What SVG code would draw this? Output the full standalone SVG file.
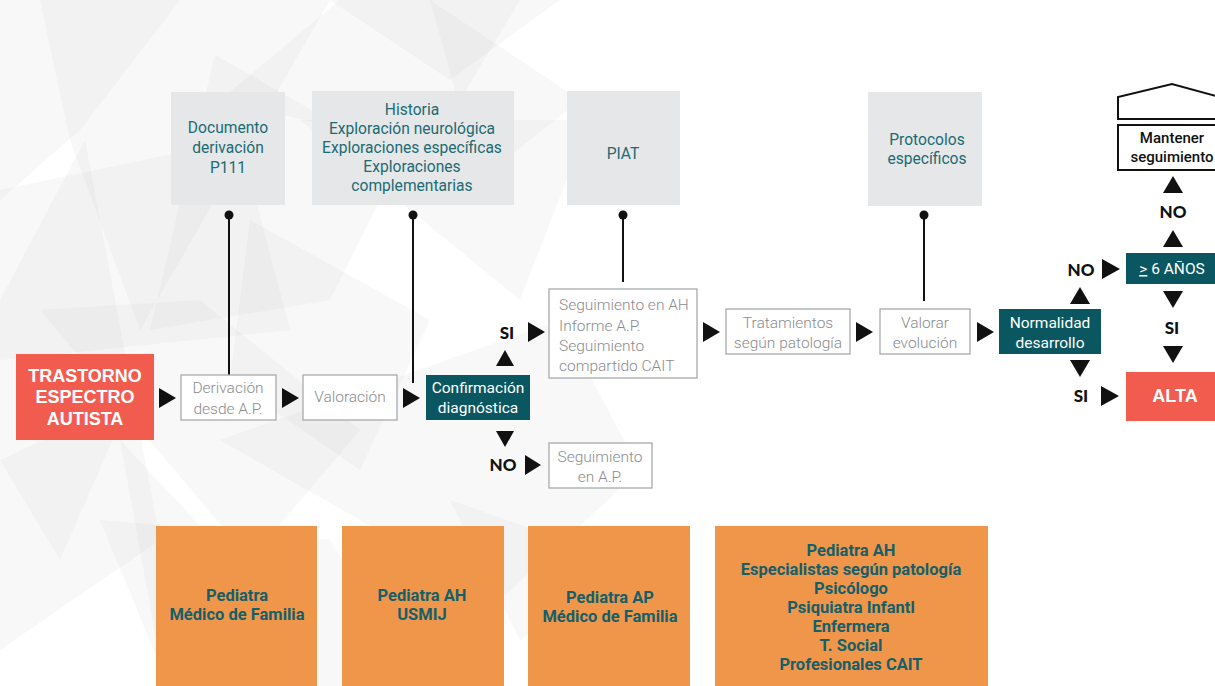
<svg xmlns="http://www.w3.org/2000/svg" width="1215" height="686" viewBox="0 0 1215 686">
<defs>
<style>
.bg{fill:#c8c9cb;opacity:0.13}
.info{fill:#e6e7e8}
.infot{font-family:Roboto,"Liberation Sans",sans-serif;font-size:15.6px;fill:#1b6b74;text-anchor:middle}
.step{fill:#ffffff;stroke:#a7a9ac;stroke-width:1.3}
.stept{font-family:Roboto,"Liberation Sans",sans-serif;font-weight:300;font-size:15.5px;fill:#8a8c8f;text-anchor:middle}
.teal{fill:#0b5761}
.tealt{font-family:Roboto,"Liberation Sans",sans-serif;font-size:15.5px;fill:#ffffff;text-anchor:middle}
.red{fill:#f25c4f}
.redt{font-family:"Liberation Sans",Arial,sans-serif;font-weight:bold;font-size:18px;fill:#ffffff;text-anchor:middle}
.org{fill:#f0964b}
.orgt{font-family:Roboto,"Liberation Sans",sans-serif;font-weight:bold;font-size:16.5px;fill:#155f69;text-anchor:middle}
.lab{font-family:Lato,"Liberation Sans",sans-serif;font-weight:900;font-size:17px;fill:#111;text-anchor:middle}
.tri{fill:#111}
.conn{stroke:#111;stroke-width:2;fill:none}
.dot{fill:#111}
</style>
</defs>
<rect width="1215" height="686" fill="#ffffff"/>
<g id="background">
<polygon class="bg" points="0,0 180,0 80,130 0,200"/>
<polygon class="bg" points="40,0 330,0 140,330 70,140"/>
<polygon class="bg" points="215,55 400,160 330,300 150,330"/>
<polygon class="bg" points="0,190 240,140 290,330 0,360"/>
<polygon class="bg" points="85,140 160,540 0,650 0,300"/>
<polygon class="bg" points="220,100 340,0 520,0 430,150"/>
<polygon class="bg" points="330,0 450,80 560,0"/>
<polygon class="bg" points="300,120 520,300 590,120"/>
<polygon class="bg" points="430,0 580,100 480,180"/>
<polygon class="bg" points="40,310 250,560 360,430 200,300"/>
<polygon class="bg" points="100,520 170,690 420,686 330,540"/>
<polygon class="bg" points="220,440 560,320 640,470 500,600"/>
<polygon class="bg" points="0,460 130,400 60,560"/>
<polygon class="bg" points="250,220 430,320 360,470 230,380"/>
<polygon class="bg" points="120,440 260,590 160,660"/>
<polygon class="bg" points="450,500 620,560 520,640"/>
</g>
<g id="connectors">
<line class="conn" x1="229" y1="215" x2="229" y2="375"/>
<circle class="dot" cx="229" cy="215" r="4.5"/>
<line class="conn" x1="413" y1="215" x2="413" y2="383"/>
<circle class="dot" cx="413" cy="215" r="4.5"/>
<line class="conn" x1="623" y1="215" x2="623" y2="282"/>
<circle class="dot" cx="623" cy="215" r="4.5"/>
<line class="conn" x1="924" y1="215" x2="924" y2="301"/>
<circle class="dot" cx="924" cy="215" r="4.5"/>
<polygon class="tri" points="159,388 176,398 159,408"/>
<polygon class="tri" points="282,388 299,398 282,408"/>
<polygon class="tri" points="403,388 420,398 403,408"/>
<polygon class="tri" points="496,366 505,350 514,366"/>
<polygon class="tri" points="528,322 545,332 528,342"/>
<polygon class="tri" points="496,431 514,431 505,447"/>
<polygon class="tri" points="525,455 541,465 525,475"/>
<polygon class="tri" points="703,322 720,332 703,342"/>
<polygon class="tri" points="856,322 873,332 856,342"/>
<polygon class="tri" points="977,322 994,332 977,342"/>
<polygon class="tri" points="1070,304 1080,287 1090,304"/>
<polygon class="tri" points="1070,360 1090,360 1080,377"/>
<polygon class="tri" points="1102,259 1120,269 1102,279"/>
<polygon class="tri" points="1101,386 1119,396 1101,406"/>
<polygon class="tri" points="1163,247 1173,230 1183,247"/>
<polygon class="tri" points="1163,193 1173,176 1183,193"/>
<polygon class="tri" points="1163,291 1183,291 1173,308"/>
<polygon class="tri" points="1163,346 1183,346 1173,363"/>
<text class="lab" x="507" y="339">SI</text>
<text class="lab" x="503" y="471">NO</text>
<text class="lab" x="1081" y="276">NO</text>
<text class="lab" x="1081" y="402">SI</text>
<text class="lab" x="1173" y="218">NO</text>
<text class="lab" x="1172" y="334">SI</text>
</g>
<g id="documento">
<rect class="info" x="171" y="92" width="114" height="113"/>
<text class="infot" x="228" y="133">Documento</text>
<text class="infot" x="228" y="153">derivación</text>
<text class="infot" x="228" y="173">P111</text>
</g>
<g id="historia">
<rect class="info" x="312" y="91" width="202" height="114"/>
<text class="infot" x="412" y="115">Historia</text>
<text class="infot" x="412" y="134">Exploración neurológica</text>
<text class="infot" x="412" y="153">Exploraciones específicas</text>
<text class="infot" x="412" y="172">Exploraciones</text>
<text class="infot" x="412" y="191">complementarias</text>
</g>
<g id="piat">
<rect class="info" x="567" y="91" width="113" height="114"/>
<text class="infot" x="623" y="159">PIAT</text>
</g>
<g id="protocolos">
<rect class="info" x="868" y="92" width="114" height="114"/>
<text class="infot" x="927" y="145">Protocolos</text>
<text class="infot" x="927" y="164">específicos</text>
</g>
<g id="trastorno">
<rect class="red" x="16" y="354" width="138" height="86"/>
<text class="redt" x="85" y="382">TRASTORNO</text>
<text class="redt" x="85" y="403">ESPECTRO</text>
<text class="redt" x="85" y="425">AUTISTA</text>
</g>
<g id="derivacion">
<rect class="step" x="181" y="375" width="95" height="45"/>
<text class="stept" x="228" y="393">Derivación</text>
<text class="stept" x="228" y="414">desde A.P.</text>
</g>
<g id="valoracion">
<rect class="step" x="303" y="375" width="94" height="45"/>
<text class="stept" x="350" y="402">Valoración</text>
</g>
<g id="confirmacion">
<rect class="teal" x="426" y="375" width="104" height="45"/>
<text class="tealt" x="478" y="393">Confirmación</text>
<text class="tealt" x="478" y="413">diagnóstica</text>
</g>
<g id="seguimiento-ah">
<rect class="step" x="549" y="289" width="148" height="89"/>
<text class="stept" x="559" y="310" style="text-anchor:start">Seguimiento en AH</text>
<text class="stept" x="559" y="331" style="text-anchor:start">Informe A.P.</text>
<text class="stept" x="559" y="351" style="text-anchor:start">Seguimiento</text>
<text class="stept" x="559" y="371" style="text-anchor:start">compartido CAIT</text>
</g>
<g id="seguimiento-ap">
<rect class="step" x="549" y="443" width="103" height="45"/>
<text class="stept" x="600" y="462">Seguimiento</text>
<text class="stept" x="600" y="482">en A.P.</text>
</g>
<g id="tratamientos">
<rect class="step" x="726" y="309" width="124" height="45"/>
<text class="stept" x="788" y="328">Tratamientos</text>
<text class="stept" x="788" y="348">según patología</text>
</g>
<g id="valorar">
<rect class="step" x="880" y="309" width="90" height="45"/>
<text class="stept" x="925" y="328">Valorar</text>
<text class="stept" x="925" y="348">evolución</text>
</g>
<g id="normalidad">
<rect class="teal" x="999" y="309" width="102" height="45"/>
<text class="tealt" x="1050" y="328">Normalidad</text>
<text class="tealt" x="1050" y="348">desarrollo</text>
</g>
<g id="seis-anos">
<rect class="teal" x="1126" y="253" width="89" height="31"/>
<text class="tealt" x="1172" y="274"><tspan text-decoration="underline">&gt;</tspan> 6 AÑOS</text>
</g>
<g id="mantener">
<polygon points="1118,119 1118,97 1172,84 1216,96 1216,119" fill="#ffffff" stroke="#111" stroke-width="2"/>
<rect x="1118" y="125" width="98" height="45" fill="#ffffff" stroke="#111" stroke-width="2"/>
<text x="1172" y="143" font-family="Roboto,'Liberation Sans',sans-serif" font-weight="500" font-size="15" fill="#111" text-anchor="middle">Mantener</text>
<text x="1172" y="162" font-family="Roboto,'Liberation Sans',sans-serif" font-weight="500" font-size="15" fill="#111" text-anchor="middle">seguimiento</text>
</g>
<g id="alta">
<rect class="red" x="1126" y="372" width="89" height="49"/>
<text class="redt" x="1175" y="402">ALTA</text>
</g>
<g id="equipo-1">
<rect class="org" x="156" y="526" width="161" height="160"/>
<text class="orgt" x="237" y="601">Pediatra</text>
<text class="orgt" x="237" y="620">Médico de Familia</text>
</g>
<g id="equipo-2">
<rect class="org" x="342" y="526" width="162" height="160"/>
<text class="orgt" x="422" y="601">Pediatra AH</text>
<text class="orgt" x="422" y="620">USMIJ</text>
</g>
<g id="equipo-3">
<rect class="org" x="528" y="526" width="162" height="160"/>
<text class="orgt" x="610" y="603">Pediatra AP</text>
<text class="orgt" x="610" y="622">Médico de Familia</text>
</g>
<g id="equipo-4">
<rect class="org" x="715" y="526" width="273" height="160"/>
<text class="orgt" x="851" y="556">Pediatra AH</text>
<text class="orgt" x="851" y="575">Especialistas según patología</text>
<text class="orgt" x="851" y="594">Psicólogo</text>
<text class="orgt" x="851" y="613">Psiquiatra Infantl</text>
<text class="orgt" x="851" y="632">Enfermera</text>
<text class="orgt" x="851" y="651">T. Social</text>
<text class="orgt" x="851" y="670">Profesionales CAIT</text>
</g>
</svg>
